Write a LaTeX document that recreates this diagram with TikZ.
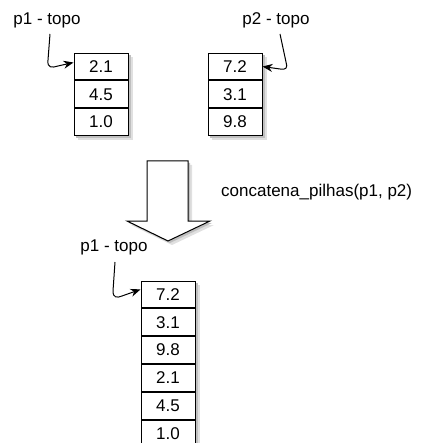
\documentclass[tikz,border=0pt]{standalone}
\usepackage{fontspec}
\setmainfont{Liberation Sans}
\usetikzlibrary{arrows.meta,calc,backgrounds}
\begin{document}
\begin{tikzpicture}[x=1pt,y=-1pt,
  every node/.style={font=\fontsize{17}{20}\selectfont},
  cell/.style={draw,line width=1pt,fill=white,minimum width=54pt,minimum height=26.8pt,inner sep=0pt},
  lbl/.style={inner sep=1pt},
  shadeA/.style={fill=black!12},
  shadeB/.style={fill=black!25},
  ptr/.style={line width=1pt,-{Stealth[length=10pt,width=8pt]}}]
\useasboundingbox (0,0) rectangle (422,443);
% stack 1
\node[cell] (a1) at (101,66.5) {2.1};
\node[cell,anchor=north] (a2) at (a1.south) {4.5};
\node[cell,anchor=north] (a3) at (a2.south) {1.0};
% stack 2
\node[cell] (b1) at (235,66.5) {7.2};
\node[cell,anchor=north] (b2) at (b1.south) {3.1};
\node[cell,anchor=north] (b3) at (b2.south) {9.8};
% stack 3
\node[cell] (c1) at (168,294.4) {7.2};
\node[cell,anchor=north] (c2) at (c1.south) {3.1};
\node[cell,anchor=north] (c3) at (c2.south) {9.8};
\node[cell,anchor=north] (c4) at (c3.south) {2.1};
\node[cell,anchor=north] (c5) at (c4.south) {4.5};
\node[cell,anchor=north] (c6) at (c5.south) {1.0};
\begin{scope}[on background layer]
\foreach \t/\b in {a1/a3,b1/b3,c1/c6}{
  \fill[shadeA] ($(\t.north west)+(4,4)$) rectangle ($(\b.south east)+(4,4)$);
  \fill[shadeB] ($(\t.north west)+(2,2)$) rectangle ($(\b.south east)+(2,2)$);
}
\end{scope}
% labels
\node[lbl] (l1) at (47,20) {p1 - topo};
\node[lbl] (l2) at (276,20) {p2 - topo};
\node[lbl] (l3) at (114,247) {p1 - topo};
\node[lbl,anchor=west] (op) at (220,192) {concatena\_pilhas(p1, p2)};
% pointers
\draw[ptr] (50,34) -- (48,60) .. controls (47,68) and (52,68) .. (58,66) -- ([yshift=4pt]a1.west);
\draw[ptr] (280,34) -- (286,62) .. controls (288,68) and (286,70) .. (280,69) -- (b1.east);
\draw[ptr] (115,262) -- (113,291) .. controls (113,298) and (117,298) .. (122,296) -- ([yshift=5pt]c1.west);
% big arrow
\fill[shadeA] (151,165) -- (192,165) -- (192,225) -- (214,225) -- (172,245) -- (131,225) -- (151,225) -- cycle;
\fill[shadeB] (149,163) -- (190,163) -- (190,223) -- (212,223) -- (170,243) -- (129,223) -- (149,223) -- cycle;
\draw[line width=1pt,fill=white]
  (147,161) -- (188,161) -- (188,221) -- (210,221) -- (168,241) -- (127,221) -- (147,221) -- cycle;
\end{tikzpicture}
\end{document}
